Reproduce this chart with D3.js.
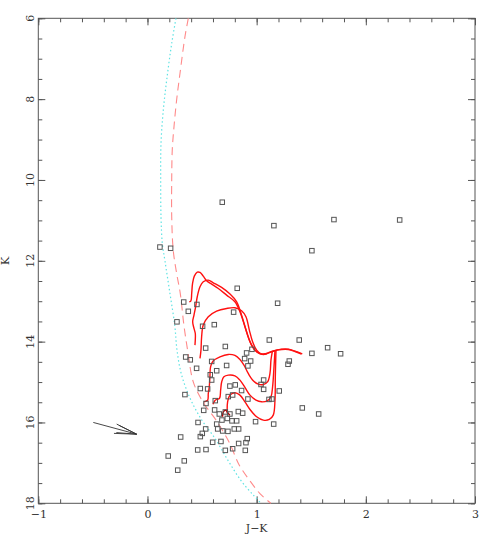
<!doctype html>
<html>
<head>
<meta charset="utf-8">
<script src="https://d3js.org/d3.v7.min.js"></script>
<style>
  body { margin: 0; background: #fff; }
  text { font-family: "DejaVu Serif", "Liberation Serif", serif; font-size: 11px; fill: #333; }
  .axis path, .axis line { stroke: #555; }
</style>
</head>
<body>
<div id="chart"></div>
<script>
// observed stars: J-K colour and K magnitude
const starJK = [0.685, 0.114, 0.212, 1.158, 1.708, 2.31, 1.506, 0.332, 0.374, 0.27,
  0.453, 0.822, 0.789, 0.612, 0.505, 0.533, 0.713, 0.908, 0.957, 0.35,
  0.392, 0.45, 0.588, 0.725, 0.634, 0.575, 0.588, 0.484, 0.551, 0.343,
  0.755, 0.804, 0.74, 0.78, 0.92, 0.621, 0.536, 0.515, 0.615, 0.658,
  0.713, 0.755, 0.832, 0.872, 0.731, 0.774, 0.817, 0.682, 0.634, 0.463,
  0.99, 0.643, 0.689, 0.737, 0.795, 0.835, 0.533, 0.502, 0.484, 0.304,
  0.597, 0.673, 0.835, 0.914, 0.902, 0.19, 0.337, 0.277, 0.46, 0.536,
  0.713, 0.78, 0.896, 1.192, 1.116, 1.39, 1.506, 1.65, 1.769, 1.299,
  1.287, 0.945, 1.064, 1.064, 1.207, 1.113, 1.14, 1.418, 1.568, 1.156,
  0.89, 0.92, 0.862, 1.04];
const starK = [10.55, 11.66, 11.69, 11.13, 10.98, 10.99, 11.75, 13.02, 13.25, 13.51,
  13.08, 12.68, 13.27, 13.58, 13.62, 14.16, 14.12, 14.28, 14.19, 14.38,
  14.45, 14.66, 14.49, 14.59, 14.72, 14.82, 14.95, 15.16, 15.17, 15.31,
  15.10, 15.07, 15.36, 15.32, 15.42, 15.46, 15.53, 15.70, 15.69, 15.79,
  15.74, 15.79, 15.73, 15.77, 15.90, 15.96, 15.96, 15.94, 16.04, 16.00,
  15.98, 16.16, 16.21, 16.22, 16.16, 16.16, 16.16, 16.27, 16.35, 16.36,
  16.49, 16.47, 16.52, 16.40, 16.50, 16.83, 16.95, 17.18, 16.68, 16.67,
  16.69, 16.65, 16.69, 13.05, 13.96, 13.96, 14.29, 14.15, 14.30, 14.48,
  14.56, 14.48, 14.95, 15.18, 15.22, 15.43, 15.42, 15.64, 15.79, 16.04,
  14.42, 14.60, 15.21, 15.06];

// main sequence / isochrone curves
const cyanJK = [0.261, 0.222, 0.176, 0.145, 0.124, 0.121, 0.124, 0.136, 0.16, 0.206, 0.25, 0.27, 0.31, 0.39, 0.50, 0.62, 0.74, 0.86, 0.97, 1.04];
const cyanK  = [6.0, 6.62, 7.53, 8.27, 9.09, 10.0, 10.91, 11.57, 12.0, 12.81, 13.6, 14.2, 14.8, 15.4, 15.95, 16.4, 16.95, 17.45, 17.8, 18.0];
const dashJK = [0.374, 0.343, 0.298, 0.267, 0.243, 0.227, 0.222, 0.222, 0.236, 0.267, 0.30, 0.334, 0.37, 0.42, 0.51, 0.63, 0.75, 0.84, 0.94, 1.03, 1.13];
const dashK  = [6.0, 6.46, 7.36, 8.02, 8.68, 9.26, 10.0, 10.91, 11.74, 12.31, 12.8, 13.6, 14.25, 15.0, 15.5, 15.95, 16.5, 17.05, 17.45, 17.76, 18.0];

// pre-main-sequence tracks [J-K, K]
const track1 = [[0.383,13.014],[0.398,12.989],[0.405,12.808],[0.413,12.56],[0.429,12.379],[0.456,12.28],[0.481,12.288],[0.511,12.379],[0.542,12.494],[0.578,12.56],[0.649,12.684],[0.725,12.849],[0.801,13.014],[0.847,13.261],[0.893,13.633],[0.939,14.004],[0.984,14.21],[1.045,14.309],[1.091,14.293],[1.152,14.227],[1.229,14.186],[1.29,14.186],[1.351,14.235],[1.418,14.301]];
const track2 = [[0.435,14.087],[0.438,13.798],[0.426,13.674],[0.414,13.509],[0.426,13.344],[0.441,13.138],[0.456,12.89],[0.481,12.643],[0.511,12.519],[0.557,12.478],[0.603,12.544],[0.679,12.659],[0.756,12.824],[0.817,13.014],[0.862,13.344],[0.908,13.757],[0.954,14.087],[1.0,14.252],[1.061,14.317],[1.091,14.30],[1.152,14.237],[1.229,14.196],[1.29,14.196],[1.351,14.245],[1.41,14.31]];
const track3 = [[0.481,14.416],[0.49,14.21],[0.496,13.88],[0.511,13.591],[0.557,13.385],[0.633,13.245],[0.725,13.179],[0.801,13.162],[0.862,13.237],[0.902,13.385],[0.933,13.715],[0.963,14.004],[1.0,14.21],[1.045,14.309],[1.091,14.293]];
const track4 = [[0.518,15.49],[0.551,15.45],[0.557,15.283],[0.566,15.118],[0.572,14.87],[0.578,14.623],[0.603,14.474],[0.664,14.375],[0.74,14.317],[0.801,14.342],[0.847,14.441],[0.884,14.582],[0.923,14.788],[0.969,14.969],[1.015,15.052],[1.061,15.06],[1.10,14.994],[1.122,14.788],[1.131,14.458],[1.143,14.252]];
const track5 = [[0.60,15.55],[0.62,15.45],[0.66,15.40],[0.67,15.2],[0.68,14.994],[0.70,14.87],[0.74,14.829],[0.801,14.846],[0.847,14.953],[0.893,15.134],[0.939,15.324],[0.994,15.448],[1.045,15.489],[1.097,15.464],[1.131,15.365],[1.146,15.118],[1.159,14.623],[1.168,14.21]];
const track6 = [[0.731,15.778],[0.734,15.489],[0.756,15.324],[0.801,15.266],[0.847,15.324],[0.893,15.489],[0.939,15.679],[1.0,15.86],[1.061,15.943],[1.116,15.926],[1.152,15.819],[1.168,15.448],[1.171,14.87],[1.177,14.21]];
const hook = [[0.688,15.86],[0.695,15.737],[0.719,15.70],[0.74,15.78],[0.756,15.82]];

// reddening vector
const arrowTail = [-0.496, 16.0];
const arrowTip = [-0.099, 16.29];
const arrowHeads = [[-0.282, 16.04], [-0.262, 16.07], [-0.307, 16.27], [-0.285, 16.25]];

const xMajor = [-1, 0, 1, 2, 3];
const yMajor = [6, 8, 10, 12, 14, 16, 18];

const width = 491, height = 545;
const x = d3.scaleLinear().domain([-1, 3]).range([38.3, 475]);
const y = d3.scaleLinear().domain([6, 18]).range([18.3, 503.3]);

const svg = d3.select('#chart').append('svg')
  .attr('width', width).attr('height', height);

// frame
svg.append('rect')
  .attr('x', x(-1)).attr('y', y(6))
  .attr('width', x(3) - x(-1)).attr('height', y(18) - y(6))
  .attr('fill', 'none').attr('stroke', '#555');

const minorX = d3.range(-1, 3.001, 0.2);
const minorY = d3.range(6, 18.001, 0.5);

function ticks(axisFn, pos, vals, size, labels) {
  const a = axisFn.tickValues(vals).tickSize(size).tickSizeOuter(0)
    .tickFormat(labels ? (d => (d < 0 ? '\u2212' : '') + Math.abs(d)) : '');
  const g = svg.append('g').attr('class', 'axis').attr('transform', pos).call(a);
  g.select('.domain').remove();
  return g;
}

const bx = ticks(d3.axisBottom(x), `translate(0,${y(18)})`, xMajor, -7, true);
bx.selectAll('text').attr('dy', '0.71em').attr('y', 7);
ticks(d3.axisBottom(x), `translate(0,${y(18)})`, minorX, -4, false);
ticks(d3.axisTop(x), `translate(0,${y(6)})`, xMajor, -7, false);
ticks(d3.axisTop(x), `translate(0,${y(6)})`, minorX, -4, false);
ticks(d3.axisLeft(y), `translate(${x(-1)},0)`, yMajor, -7, false);
ticks(d3.axisLeft(y), `translate(${x(-1)},0)`, minorY, -4, false);
ticks(d3.axisRight(y), `translate(${x(3)},0)`, yMajor, -7, false);
ticks(d3.axisRight(y), `translate(${x(3)},0)`, minorY, -4, false);

// rotated y labels
svg.append('g').selectAll('text').data(yMajor).join('text')
  .attr('transform', d => `translate(34,${y(d)}) rotate(-90)`)
  .attr('text-anchor', 'middle')
  .text(d => d);

svg.append('text')
  .attr('transform', `translate(9,${y(12)}) rotate(-90)`)
  .attr('text-anchor', 'middle')
  .text('K');
svg.append('text')
  .attr('x', x(1)).attr('y', 532)
  .attr('text-anchor', 'middle')
  .text('J\u2212K');

const plot = svg.append('g');
const line = d3.line().x(d => x(d[0])).y(d => y(d[1])).curve(d3.curveCatmullRom.alpha(0.5));

plot.append('path')
  .attr('d', line(cyanJK.map((v, i) => [v, cyanK[i]])))
  .attr('fill', 'none').attr('stroke', '#5fe3e3').attr('stroke-width', 1.2)
  .attr('stroke-dasharray', '1.5,2.5');
plot.append('path')
  .attr('d', line(dashJK.map((v, i) => [v, dashK[i]])))
  .attr('fill', 'none').attr('stroke', '#ff8a8a').attr('stroke-width', 1.1)
  .attr('stroke-dasharray', '8,5');

[track1, track2, track3, track4, track5, track6].forEach(t => {
  plot.append('path').attr('d', line(t))
    .attr('fill', 'none').attr('stroke', '#ff1010').attr('stroke-width', 1.4);
});
plot.append('path').attr('d', line(hook))
  .attr('fill', 'none').attr('stroke', '#b00000').attr('stroke-width', 1.4);

// stars
const s = 4.5;
plot.append('g').selectAll('rect').data(starJK).join('rect')
  .attr('x', (d, i) => x(d) - s / 2)
  .attr('y', (d, i) => y(starK[i]) - s / 2)
  .attr('width', s).attr('height', s)
  .attr('fill', 'none').attr('stroke', '#555').attr('stroke-width', 1);

// arrow
const arr = plot.append('g').attr('stroke', '#333').attr('stroke-width', 0.9);
[arrowTail].concat(arrowHeads).forEach(p => {
  arr.append('line')
    .attr('x1', x(p[0])).attr('y1', y(p[1]))
    .attr('x2', x(arrowTip[0])).attr('y2', y(arrowTip[1]));
});
</script>
</body>
</html>
